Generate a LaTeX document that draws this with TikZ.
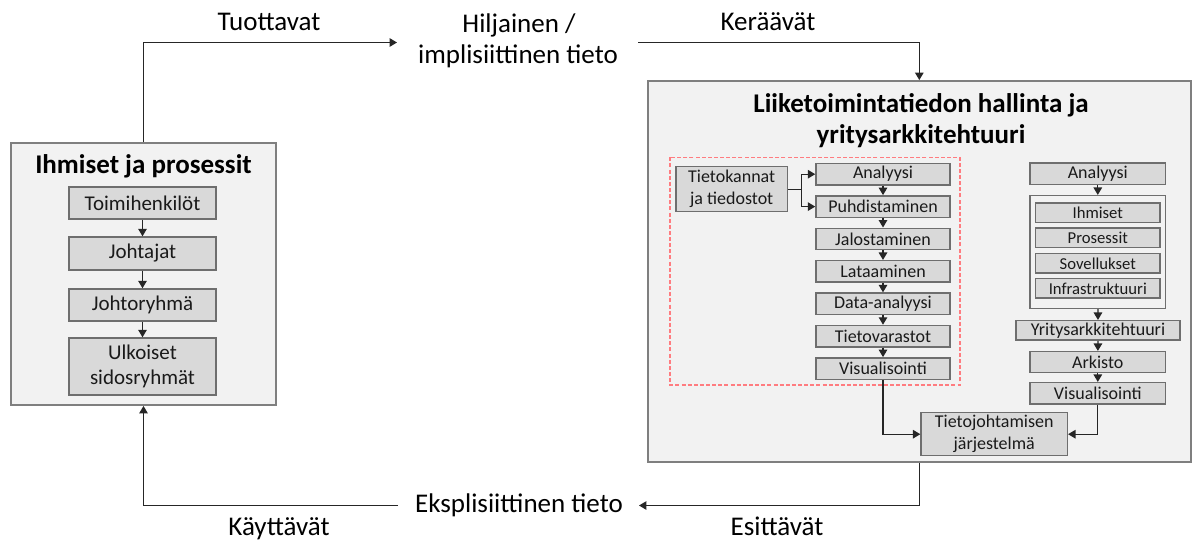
\documentclass[tikz,border=0pt]{standalone}
\usepackage{fontspec}
\setmainfont{Carlito}
\usetikzlibrary{arrows.meta}

\definecolor{panelfill}{HTML}{F2F2F2}
\definecolor{panelline}{HTML}{7F7F7F}
\definecolor{boxfill}{HTML}{D9D9D9}
\definecolor{boxline}{HTML}{6E6E6E}
\definecolor{wireline}{HTML}{262626}
\definecolor{txt}{HTML}{1A1A1A}
\definecolor{reddash}{HTML}{FF7C80}

\newcommand{\bigfont}{\fontsize{20.25}{23}\selectfont}
\newcommand{\midfont}{\fontsize{15.75}{19}\selectfont}
\newcommand{\smallfont}{\fontsize{13.5}{16.5}\selectfont}
\newcommand{\tinyfont}{\fontsize{12.5}{15}\selectfont}

\tikzset{
  panel/.style={draw=panelline, fill=panelfill, line width=1.4pt, inner sep=0pt},
  box/.style={draw=boxline, fill=boxfill, line width=1.1pt, inner sep=0pt,
              align=center, text=txt},
  leftbox/.style={box, font=\midfont, minimum width=110.25pt},
  colbox/.style={box, font=\smallfont, minimum width=100.5pt, minimum height=16.1pt},
  innerbox/.style={box, font=\tinyfont, minimum width=93.2pt, minimum height=14.6pt},
  label/.style={font=\bigfont, text=black, inner sep=0pt, anchor=base},
  heading/.style={font=\bigfont\bfseries, text=black, inner sep=0pt, anchor=base},
  wire/.style={draw=wireline, line width=0.9pt},
  arr/.style={wire, -{Triangle[length=5.6pt, width=6.4pt]}},
}

\begin{document}
\begin{tikzpicture}[x=0.75pt, y=-0.75pt]
\useasboundingbox (0,0) rectangle (1192,542);

% ---------- left panel: people and processes ----------
\node[panel, minimum width=198.75pt, minimum height=196.5pt] (lp) at (143.5,274) {};
\node[heading] (lptitle) at (143.5,173) {Ihmiset ja prosessit};
\node[leftbox, minimum height=24pt]   (toim) at (142.5,203)   {Toimihenkilöt};
\node[leftbox, minimum height=24.7pt] (joht) at (142.5,253.5) {Johtajat};
\node[leftbox, minimum height=24pt]   (jory) at (142.5,305)   {Johtoryhmä};
\node[leftbox, minimum height=42.7pt] (ulko) at (142.5,366.5) {Ulkoiset\\sidosryhmät};
\draw[arr] (toim) -- (joht);
\draw[arr] (joht) -- (jory);
\draw[arr] (jory) -- (ulko);

% ---------- right panel: business information management ----------
\node[panel, minimum width=406.9pt, minimum height=285.75pt] (rp) at (919.3,271.5) {};
\node[heading] (rptitle1) at (921,112.5) {Liiketoimintatiedon hallinta ja};
\node[heading] (rptitle2) at (921,143.5) {yritysarkkitehtuuri};

% data pipeline, framed in red
\draw[reddash, line width=1pt, dash pattern=on 3pt off 1.6pt] (670,157.3) rectangle (960,385);
\node[box, font=\smallfont, minimum width=83.5pt, minimum height=33.8pt] (tk) at (731.7,189.2)
  {Tietokannat\\ja tiedostot};
\node[colbox] (an1) at (883,174.2) {Analyysi};
\node[colbox] (puh) at (883,206.6) {Puhdistaminen};
\node[colbox] (jal) at (883,239.0) {Jalostaminen};
\node[colbox] (lat) at (883,271.4) {Lataaminen};
\node[colbox] (dat) at (883,303.8) {Data-analyysi};
\node[colbox] (tvr) at (883,336.2) {Tietovarastot};
\node[colbox] (vis1) at (883,368.6) {Visualisointi};
\coordinate (split) at (801.7,189.2);
\draw[wire] (tk.east) -- (split);
\draw[arr] (split) |- (an1.west);
\draw[arr] (split) |- (puh.west);
\draw[arr] (an1) -- (puh);
\draw[arr] (puh) -- (jal);
\draw[arr] (jal) -- (lat);
\draw[arr] (lat) -- (dat);
\draw[arr] (dat) -- (tvr);
\draw[arr] (tvr) -- (vis1);

% enterprise architecture column
\node[colbox, minimum width=101.5pt] (an2) at (1097.8,173.8) {Analyysi};
\node[draw=boxline, fill=panelfill, line width=1.1pt, inner sep=0pt,
      minimum width=101.8pt, minimum height=84.5pt] (grp) at (1097.8,252) {};
\node[innerbox] (ihm) at (1097.8,212.8) {Ihmiset};
\node[innerbox] (pro) at (1097.8,237.7) {Prosessit};
\node[innerbox] (sov) at (1097.8,263.3) {Sovellukset};
\node[innerbox] (inf) at (1097.8,288.3) {Infrastruktuuri};
\node[colbox, minimum width=123pt, minimum height=14.6pt] (ya) at (1098,330.4) {Yritysarkkitehtuuri};
\node[colbox, minimum width=101.8pt, minimum height=15.8pt] (ark) at (1097.8,362.2) {Arkisto};
\node[colbox, minimum width=101.8pt, minimum height=16pt] (vis2) at (1097.8,393.3) {Visualisointi};
\draw[arr] (an2) -- (grp);
\draw[arr] (grp) -- (ya);
\draw[arr] (ya) -- (ark);
\draw[arr] (ark) -- (vis2);

% knowledge management system
\node[box, font=\smallfont, minimum width=109.7pt, minimum height=32.3pt] (tj) at (994.2,434.2)
  {Tietojohtamisen\\järjestelmä};
\draw[arr] (vis1.south) |- (tj.west);
\draw[arr] (vis2.south) |- (tj.east);

% ---------- knowledge cycle ----------
\node[label] (hil1) at (519,32.7) {Hiljainen /};
\node[label] (hil2) at (518,63.3) {implisiittinen tieto};
\coordinate (hilW) at (397,42.5);
\coordinate (hilE) at (638,42.5);
\node[label] (eks) at (519,512) {Eksplisiittinen tieto};
\coordinate (eksE) at (639,505.5);
\coordinate (eksW) at (398,505.5);

\node[label] (tuot) at (269,30.5) {Tuottavat};
\node[label] (ker)  at (768,31)   {Keräävät};
\node[label] (esi)  at (777,535)  {Esittävät};
\node[label] (kay)  at (279,535.5){Käyttävät};

\draw[arr] (lp.north) |- (hilW);
\draw[arr] (hilE) -| (rp.north);
\draw[arr] (rp.south) |- (eksE);
\draw[arr] (eksW) -| (lp.south);
\end{tikzpicture}
\end{document}
